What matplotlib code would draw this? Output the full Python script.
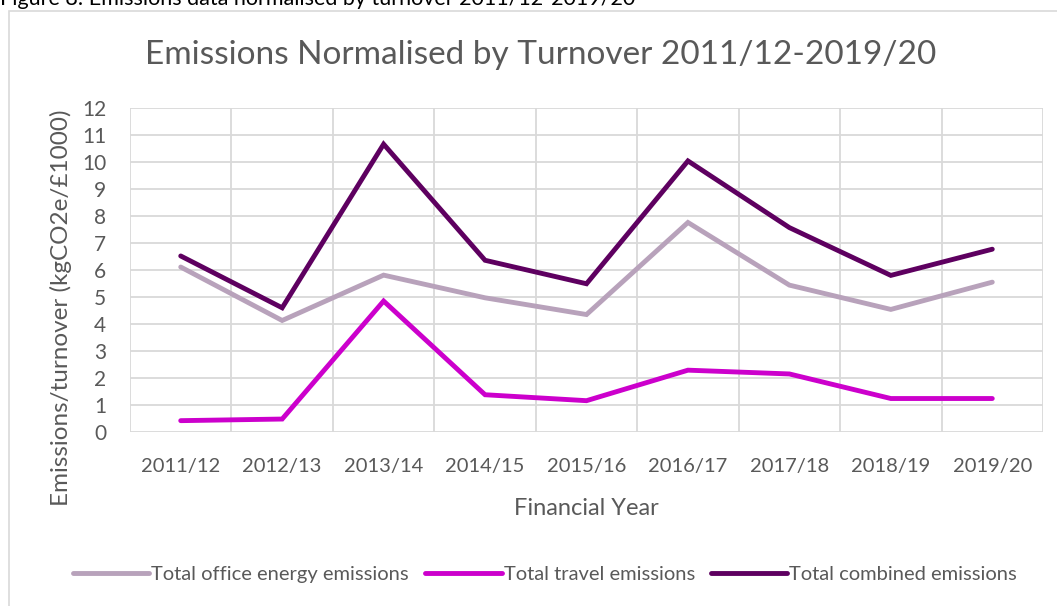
import matplotlib
matplotlib.use("Agg")
import matplotlib.pyplot as plt
from matplotlib.patches import Rectangle
import numpy as np

years = ["2011/12", "2012/13", "2013/14", "2014/15", "2015/16",
         "2016/17", "2017/18", "2018/19", "2019/20"]
office = [6.11, 4.13, 5.81, 4.97, 4.35, 7.76, 5.44, 4.54, 5.55]
travel = [0.42, 0.48, 4.85, 1.38, 1.16, 2.29, 2.15, 1.24, 1.24]
combined = [6.52, 4.60, 10.66, 6.36, 5.49, 10.04, 7.57, 5.80, 6.77]
yticks = list(range(0, 13))

plt.rcParams['font.family'] = ['Lato', 'DejaVu Sans']
txt = '#595959'
grid = '#d9d9d9'

W, H = 1057, 606
fig = plt.figure(figsize=(W/100, H/100), dpi=100)
fig.patch.set_facecolor('white')

# outer chart border (extends beyond right/bottom edge)
fig.patches.append(Rectangle((9/W, -0.1), 1.2, 1 - 11/H + 0.1, transform=fig.transFigure,
                             fill=False, edgecolor=grid, linewidth=1.2))
# cropped caption at top (cut off in the reference too)
fig.text(0/W, 1 - 5/H, "Figure 8: Emissions data normalised by turnover 2011/12-2019/20",
         fontsize=15.5, color='black', va='baseline', ha='left')

ax = fig.add_axes([130/W, 1 - 432/H, (1043-130)/W, (432-108)/H])
x = np.arange(len(years))
lw = 3.5
l1, = ax.plot(x, office, color='#b8a2bb', lw=lw, solid_capstyle='round', solid_joinstyle='miter', label='Total office energy emissions', zorder=3)
l2, = ax.plot(x, travel, color='#cc00cc', lw=lw, solid_capstyle='round', solid_joinstyle='miter', label='Total travel emissions', zorder=3)
l3, = ax.plot(x, combined, color='#5e0060', lw=lw, solid_capstyle='round', solid_joinstyle='miter', label='Total combined emissions', zorder=3)

ax.set_xlim(-0.5, len(years) - 0.5)
ax.set_ylim(0, 12)
ax.set_yticks(yticks)
ax.set_xticks(x)
ax.set_xticklabels(years)
ax.set_xticks(np.arange(-0.5, len(years)), minor=True)
ax.grid(True, which='minor', axis='x', color=grid, lw=1.3)
ax.grid(True, which='major', axis='y', color=grid, lw=1.3)
ax.set_axisbelow(True)
for s in ax.spines.values():
    s.set_visible(False)
ax.tick_params(which='both', length=0)
ax.tick_params(axis='y', labelsize=15, colors=txt, pad=17)
ax.tick_params(axis='x', labelsize=14.5, colors=txt, pad=19)

fig.text(61/W, 1 - 308/H, "Emissions/turnover (kgCO2e/£1000)", fontsize=17.5,
         color=txt, rotation=90, ha='center', va='center')
ax.set_xlabel("Financial Year", fontsize=17, color=txt, labelpad=16)
fig.text(541/W, 1 - 55/H, "Emissions Normalised by Turnover 2011/12-2019/20",
         fontsize=24, color=txt, ha='center', va='center')

leg = fig.legend(handles=[l1, l2, l3], loc='center', bbox_to_anchor=(545/W, 1 - 574/H),
                 ncol=3, frameon=False, fontsize=14.5, handlelength=3.8,
                 handletextpad=0.1, columnspacing=0.8)
for t in leg.get_texts():
    t.set_color(txt)

fig.savefig("out.png", dpi=100)
